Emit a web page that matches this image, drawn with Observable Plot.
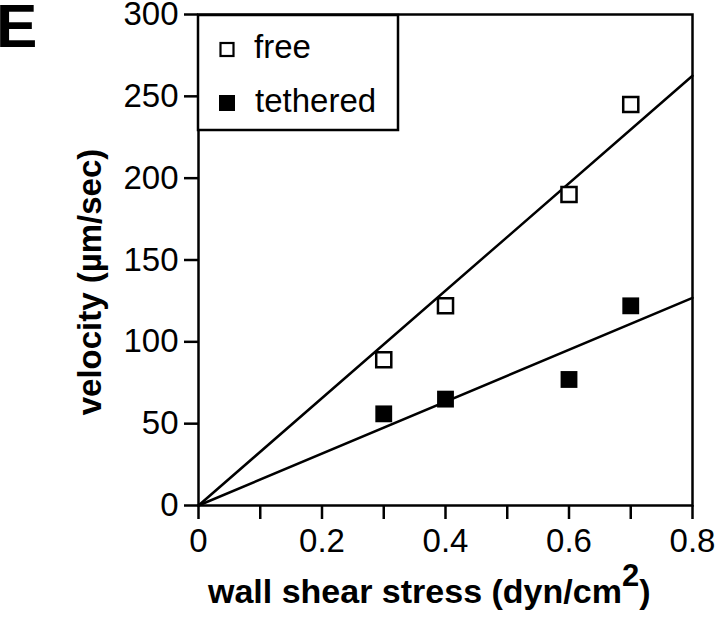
<!DOCTYPE html>
<html>
<head>
<meta charset="utf-8">
<script src="https://cdn.jsdelivr.net/npm/d3@7"></script>
<script src="https://cdn.jsdelivr.net/npm/@observablehq/plot@0.6"></script>
<style>
  html, body { margin: 0; padding: 0; background: #fff; }
  #chart { width: 720px; height: 623px; }
</style>
</head>
<body>
<div id="chart"></div>
<script>
// Data
const stress = [0.3, 0.4, 0.6, 0.7];
const freeVelocity = [89, 122, 190, 245];
const tetheredVelocity = [56, 65, 77, 122];
const seriesNames = ["free", "tethered"];
const xTicks = [0, 0.1, 0.2, 0.3, 0.4, 0.5, 0.6, 0.7, 0.8];
const yTicks = [0, 50, 100, 150, 200, 250, 300];
const xDomain = [0, 0.8];
const yDomain = [0, 300];

// Least-squares fit through origin for each series
function slopeThroughOrigin(xs, ys) {
  const sxy = d3.sum(xs, (x, i) => x * ys[i]);
  const sxx = d3.sum(xs, x => x * x);
  return sxy / sxx;
}
const freePts = stress.map((x, i) => ({x, y: freeVelocity[i]}));
const tethPts = stress.map((x, i) => ({x, y: tetheredVelocity[i]}));
const kFree = slopeThroughOrigin(stress, freeVelocity);
const kTeth = slopeThroughOrigin(stress, tetheredVelocity);
const freeLine = xDomain.map(x => ({x, y: kFree * x}));
const tethLine = xDomain.map(x => ({x, y: kTeth * x}));

const font = "'Liberation Sans', Arial, Helvetica, sans-serif";
const fmt = d => d === 0 ? "0" : d.toFixed(1);

const plot = Plot.plot({
  width: 720,
  height: 623,
  marginLeft: 198,
  marginRight: 28,
  marginTop: 14,
  marginBottom: 118,
  style: {fontFamily: font, fontSize: "33px", color: "#000", background: "#fff", overflow: "visible"},
  x: {domain: xDomain},
  y: {domain: yDomain},
  marks: [
    Plot.axisX({ticks: xTicks, tickSize: 14, tickPadding: 9, strokeWidth: 2.5, label: null,
      tickFormat: d => (Math.round(d * 10) % 2 === 0 ? fmt(d) : ""), fontSize: 33}),
    Plot.axisY({ticks: yTicks, tickSize: 14, tickPadding: 6, strokeWidth: 2.5, label: null, fontSize: 33}),
    Plot.line(freeLine, {x: "x", y: "y", stroke: "#000", strokeWidth: 2.5}),
    Plot.line(tethLine, {x: "x", y: "y", stroke: "#000", strokeWidth: 2.5}),
    Plot.dot(freePts, {x: "x", y: "y", symbol: "square", r: 8.5, fill: "#fff", stroke: "#000", strokeWidth: 2.5}),
    Plot.dot(tethPts, {x: "x", y: "y", symbol: "square", r: 9.5, fill: "#000", stroke: "none"}),
    Plot.frame({stroke: "#000", strokeWidth: 2.5})
  ]
});

document.getElementById("chart").appendChild(plot);

const svg = d3.select(plot);

// Axis titles
svg.append("text")
  .attr("x", 208).attr("y", 603)
  .attr("text-anchor", "start")
  .attr("font-family", font).attr("font-weight", "bold").attr("font-size", 34)
  .attr("fill", "#000")
  .call(t => {
    t.append("tspan").text("wall shear stress (dyn/cm");
    t.append("tspan").attr("dy", -17).attr("font-size", 31).text("2");
    t.append("tspan").attr("dy", 17).text(")");
  });

svg.append("text")
  .attr("transform", "translate(101,282) rotate(-90)")
  .attr("text-anchor", "middle")
  .attr("font-family", font).attr("font-weight", "bold").attr("font-size", 33)
  .attr("fill", "#000")
  .text("velocity (µm/sec)");

// Panel letter
svg.append("text")
  .attr("x", -4).attr("y", 47)
  .attr("text-anchor", "start")
  .attr("font-family", font).attr("font-weight", "bold").attr("font-size", 62)
  .attr("fill", "#000")
  .text("E");

// Legend
const lg = svg.append("g");
lg.append("rect").attr("x", 198).attr("y", 15).attr("width", 200).attr("height", 115)
  .attr("fill", "#fff").attr("stroke", "#000").attr("stroke-width", 2.5);
lg.append("rect").attr("x", 220.5).attr("y", 43).attr("width", 13).attr("height", 13)
  .attr("fill", "#fff").attr("stroke", "#000").attr("stroke-width", 2.2);
lg.append("rect").attr("x", 219).attr("y", 95).attr("width", 16).attr("height", 16)
  .attr("fill", "#000");
lg.append("text").attr("x", 254).attr("y", 58).attr("text-anchor", "start")
  .attr("font-family", font).attr("font-size", 33).attr("fill", "#000").text(seriesNames[0]);
lg.append("text").attr("x", 255).attr("y", 112).attr("text-anchor", "start")
  .attr("font-family", font).attr("font-size", 33).attr("fill", "#000").text(seriesNames[1]);
</script>
</body>
</html>
